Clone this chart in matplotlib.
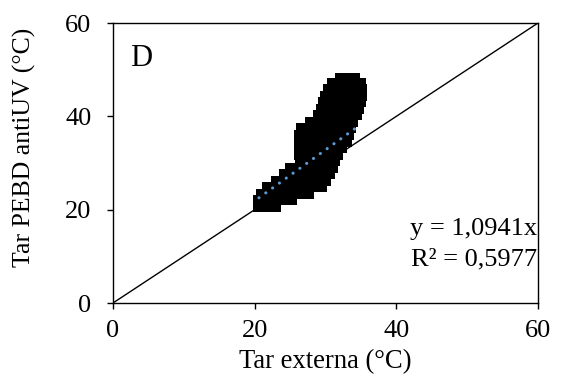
import matplotlib
matplotlib.use('Agg')
import matplotlib.pyplot as plt

# Pontos do gráfico, agrupados por linha horizontal
row_y = [20.6, 22.0, 23.4, 24.8, 26.2, 27.6, 29.0, 30.4, 31.8, 33.2, 34.6,
         36.0, 37.4, 38.8, 40.2, 41.6, 43.0, 44.4, 45.8, 47.2, 48.2]
row_x = [
    [20.5, 21.6, 22.4, 23.0],
    [20.5, 21.7, 22.9, 24.1, 25.3],
    [20.9, 22.1, 23.3, 24.5, 25.7, 26.8, 27.6],
    [21.8, 23.0, 24.2, 25.4, 26.6, 27.8, 28.8, 29.5],
    [23.0, 24.2, 25.4, 26.6, 27.8, 29.0, 30.1],
    [24.1, 25.3, 26.5, 27.7, 28.9, 30.0, 30.6],
    [25.0, 26.2, 27.4, 28.6, 29.8, 31.0],
    [26.4, 27.6, 28.8, 30.0, 31.0, 31.4],
    [26.3, 27.5, 28.7, 29.9, 31.0, 31.8],
    [26.3, 27.5, 28.7, 29.9, 31.1, 32.3],
    [26.3, 27.5, 28.7, 29.9, 31.1, 32.2, 33.0],
    [26.3, 27.5, 28.7, 29.9, 31.1, 32.3, 33.3],
    [26.6, 27.8, 29.0, 30.2, 31.4, 32.6, 33.6],
    [27.8, 29.0, 30.2, 31.4, 32.6, 33.9],
    [29.0, 30.2, 31.4, 32.6, 33.6, 34.4],
    [29.3, 30.5, 31.7, 32.9, 34.0, 34.7],
    [29.6, 30.8, 32.0, 33.2, 34.3, 35.0],
    [29.9, 31.1, 32.3, 33.5, 34.5, 35.1],
    [30.3, 31.5, 32.7, 33.9, 35.1],
    [30.9, 32.1, 33.3, 34.4, 35.0],
    [32.1, 33.2, 34.2],
]

# Linha 1:1 e linha de tendência
ref_x = [0, 60]
ref_y = [0, 60]
slope = 1.0941
trend_x = [20.6, 34.1]

panel = 'D'
eq_text = 'y = 1,0941x'
r2_text = 'R² = 0,5977'
xlabel = 'Tar externa (°C)'
ylabel = 'Tar PEBD antiUV (°C)'
ticks = [0, 20, 40, 60]


def main():
    plt.rcParams['font.family'] = ['Liberation Serif', 'DejaVu Serif']
    plt.rcParams['font.size'] = 19

    fig = plt.figure(figsize=(5.64, 3.90), dpi=100)
    ax = fig.add_axes([113 / 564, 1 - 303 / 390, 425 / 564, 280 / 390])

    # Nuvem de pontos
    pts_x, pts_y = [], []
    for y, xs in zip(row_y, row_x):
        for x in xs:
            pts_x.append(x)
            pts_y.append(y)
    ax.scatter(pts_x, pts_y, marker='s', s=42, color='black', linewidths=0, zorder=2)

    # Linha 1:1
    ax.plot(ref_x, ref_y, color='black', linewidth=1.0, zorder=3)

    # Tendência
    trend_y = [slope * x for x in trend_x]
    ax.plot(trend_x, trend_y, color='#5B9BD5', linewidth=2.2,
            linestyle=(0, (0.05, 2.7)), dash_capstyle='round', zorder=4)

    ax.text(2.4, 50.8, panel, fontsize=22, va='baseline', ha='left')
    ax.text(59.9, 14.6, eq_text, fontsize=19, va='baseline', ha='right')
    ax.text(59.9, 8.1, r2_text, fontsize=19, va='baseline', ha='right')

    ax.set_xlim(0, 60)
    ax.set_ylim(0, 60)
    ax.set_xticks(ticks)
    ax.set_yticks(ticks)
    ax.tick_params(direction='out', length=4.5, width=1.0)
    ax.tick_params(axis='x', pad=8)
    ax.tick_params(axis='y', pad=11)
    for s in ax.spines.values():
        s.set_linewidth(1.0)

    ax.set_xlabel(xlabel, fontsize=19.2, labelpad=5)
    ax.set_ylabel(ylabel, fontsize=18.5)
    ax.yaxis.set_label_coords(-0.181, 0.555)

    fig.savefig('out.png', dpi=100)


if __name__ == '__main__':
    main()
